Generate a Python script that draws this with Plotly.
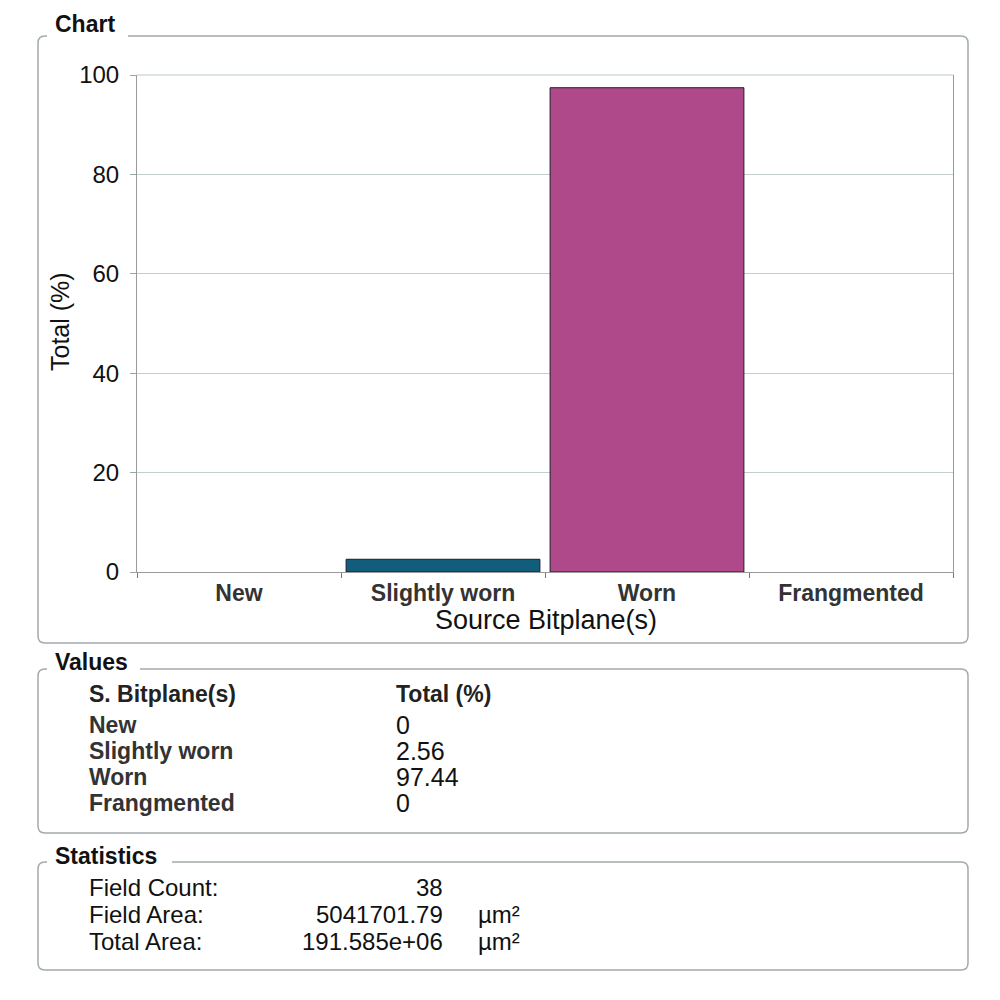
import plotly.graph_objects as go

# Bitplane classes and their share of the total (%)
categories = ["New", "Slightly worn", "Worn", "Frangmented"]
totals = [0, 2.56, 97.44, 0]
bar_colors = ["#135d7c", "#135d7c", "#b0498a", "#b0498a"]
y_ticks = [0, 20, 40, 60, 80, 100]

# Statistics panel
stat_labels = ["Field Count:", "Field Area:", "Total Area:"]
stat_values = ["38", "5041701.79", "191.585e+06"]
stat_units = ["", "µm²", "µm²"]

FONT = "Liberation Sans, Arial, sans-serif"
W, H = 1000, 1000


def px(x):
    return x / W


def py(y):
    return 1 - y / H


def group_box(left, top, right, bottom, gap_start, gap_end, r=7):
    """Rounded frame whose top edge leaves a gap for the group caption."""
    pts = [
        ("M", [(gap_end, top)]),
        ("L", [(right - r, top)]),
        ("Q", [(right, top), (right, top + r)]),
        ("L", [(right, bottom - r)]),
        ("Q", [(right, bottom), (right - r, bottom)]),
        ("L", [(left + r, bottom)]),
        ("Q", [(left, bottom), (left, bottom - r)]),
        ("L", [(left, top + r)]),
        ("Q", [(left, top), (left + r, top)]),
        ("L", [(gap_start, top)]),
    ]
    path = " ".join(
        cmd + " " + " ".join(f"{px(x):.4f},{py(y):.4f}" for x, y in coords)
        for cmd, coords in pts
    )
    return dict(type="path", xref="paper", yref="paper", path=path,
                line=dict(color="#a3abad", width=1.5))


# outline only the bars that have height
outline_widths = [1 if v > 0 else 0 for v in totals]

fig = go.Figure(
    go.Bar(
        x=categories,
        y=totals,
        marker=dict(color=bar_colors,
                    line=dict(color="#1c1c2c", width=outline_widths)),
        hoverinfo="x+y",
    )
)

plot_left, plot_right, plot_top, plot_bottom = 137, 953, 75, 572

fig.update_layout(
    width=W,
    height=H,
    margin=dict(l=0, r=0, t=0, b=0, autoexpand=False),
    paper_bgcolor="white",
    plot_bgcolor="white",
    showlegend=False,
    bargap=0.05,
    font=dict(family=FONT, color="#111111"),
    xaxis=dict(
        domain=[px(plot_left), px(plot_right)],
        automargin=False,
        showline=True,
        linecolor="#9a9a9a",
        linewidth=1,
        ticks="outside",
        tickson="boundaries",
        ticklen=5,
        tickcolor="#777777",
        tickfont=dict(family=FONT, size=23, color="#333333", weight="bold"),
        showgrid=False,
        fixedrange=True,
    ),
    yaxis=dict(
        domain=[py(plot_bottom), py(plot_top)],
        automargin=False,
        range=[0, 100],
        tickvals=y_ticks,
        showline=True,
        mirror=True,
        linecolor="#9a9a9a",
        linewidth=1,
        ticks="outside",
        ticklen=6,
        tickcolor="#9aa8a8",
        ticklabelstandoff=6,
        tickfont=dict(family=FONT, size=24, color="#111111"),
        showgrid=True,
        gridcolor="#c3cfcf",
        gridwidth=1,
        zeroline=False,
        fixedrange=True,
    ),
)

shapes = [
    group_box(38, 36, 968, 643, 47, 128),
    group_box(38, 669, 968, 833, 47, 140),
    group_box(38, 862, 968, 970, 47, 172),
    # top edge of the plotting area
    dict(type="line", xref="paper", yref="paper",
         x0=px(plot_left), x1=px(plot_right), y0=py(plot_top), y1=py(plot_top),
         line=dict(color="#b7c7c7", width=1)),
]

annotations = []


def text(x, y, s, size=21, bold=False, color="#111111", anchor="left", angle=0):
    annotations.append(dict(
        xref="paper", yref="paper", x=px(x), y=py(y), text=s,
        showarrow=False, xanchor=anchor, yanchor="middle", textangle=angle,
        font=dict(family=FONT, size=size, color=color,
                  weight="bold" if bold else "normal"),
    ))


# Axis titles
text(546, 620, "Source Bitplane(s)", size=27, anchor="center")
text(60, 322, "Total (%)", size=25, anchor="center", angle=-90)

# Group captions
text(53, 24, "Chart", size=23, bold=True)
text(53, 662, "Values", size=23, bold=True)
text(53, 856, "Statistics", size=23, bold=True)

# Values table
text(87, 694, "S. Bitplane(s)", size=23, bold=True, color="#222222")
text(394, 694, "Total (%)", size=23, bold=True, color="#222222")
row_y = [725, 751, 777, 803]
for cat, val, yy in zip(categories, totals, row_y):
    text(87, yy, cat, size=23, bold=True, color="#333333")
    text(394, yy, f"{val:g}", size=25, color="#111111")

# Statistics table
stat_y = [887, 914, 941]
for lab, val, unit, yy in zip(stat_labels, stat_values, stat_units, stat_y):
    text(87, yy, lab, size=24)
    text(445, yy, val, size=24, anchor="right")
    if unit:
        text(476, yy, unit, size=24)

fig.update_layout(shapes=shapes, annotations=annotations)

fig.write_html("out.html")
